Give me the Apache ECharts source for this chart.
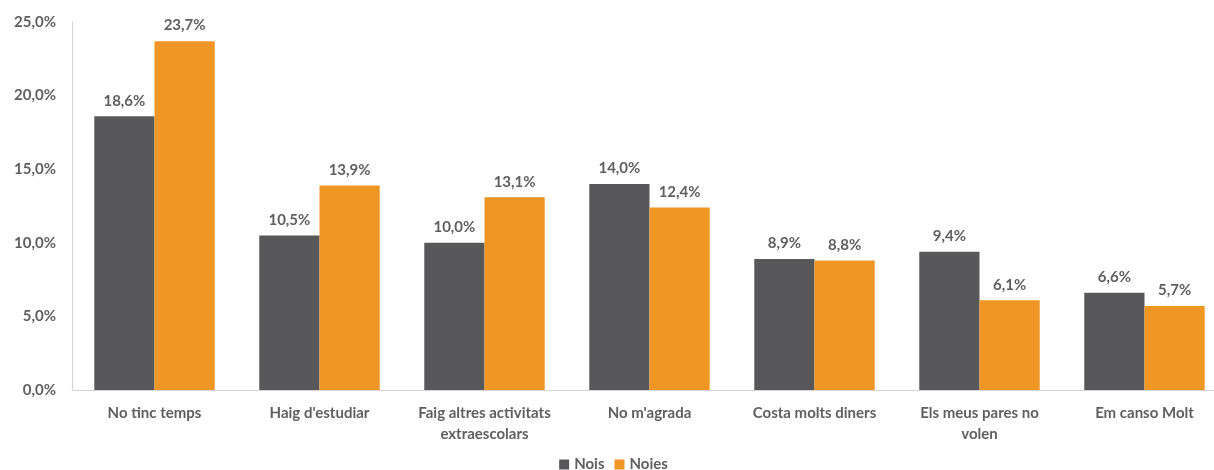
<!DOCTYPE html>
<html>
<head>
<meta charset="utf-8">
<script src="https://cdn.jsdelivr.net/npm/echarts@6/dist/echarts.min.js"></script>
<style>
  html, body { margin: 0; padding: 0; background: #fff; overflow: hidden; }
  /* the original plot runs a little past the right edge of the picture */
  #chart { width: 1227px; height: 470px; }
</style>
</head>
<body>
<div id="chart"></div>
<script>
// categories and values
var categories = [
  'No tinc temps',
  "Haig d'estudiar",
  'Faig altres activitats\nextraescolars',
  "No m'agrada",
  'Costa molts diners',
  'Els meus pares no\nvolen',
  'Em canso Molt'
];
var nois = [18.6, 10.5, 10.0, 14.0, 8.9, 9.4, 6.6];
var noies = [23.7, 13.9, 13.1, 12.4, 8.8, 6.1, 5.7];
var yTicks = [0, 5, 10, 15, 20, 25];

function pct(v) {
  return v.toFixed(1).replace('.', ',') + '%';
}

var textColor = '#5f5f5f';
var fontFam = 'Lato, "Open Sans", sans-serif';

var myChart = echarts.init(document.getElementById('chart'));
myChart.setOption({
  animation: false,
  textStyle: { fontFamily: fontFam },
  grid: {
    left: 72,
    top: 22,
    right: 0,
    bottom: 80
  },
  legend: {
    top: 452,
    left: 'center',
    itemWidth: 10,
    itemHeight: 10,
    itemGap: 10,
    icon: 'rect',
    textStyle: { color: textColor, fontSize: 15, fontWeight: 'bold', fontFamily: fontFam },
    data: ['Nois', 'Noies']
  },
  xAxis: {
    type: 'category',
    data: categories,
    axisLine: { lineStyle: { color: '#d4d4d4', width: 1 } },
    axisTick: { show: false },
    axisLabel: {
      color: textColor,
      fontSize: 15,
      fontWeight: 'bold',
      margin: 13,
      lineHeight: 21,
      interval: 0
    }
  },
  yAxis: {
    type: 'value',
    min: yTicks[0],
    max: yTicks[yTicks.length - 1],
    interval: 5,
    axisLine: { show: true, lineStyle: { color: '#d4d4d4', width: 1 } },
    axisTick: { show: false },
    splitLine: { show: false },
    axisLabel: {
      color: textColor,
      fontSize: 15,
      fontWeight: 'bold',
      margin: 16,
      formatter: function (v) { return pct(v); }
    }
  },
  series: [
    {
      name: 'Nois',
      type: 'bar',
      data: nois,
      barGap: 0,
      barCategoryGap: '27%',
      itemStyle: { color: '#58585b' },
      label: {
        show: true,
        position: 'top',
        distance: 8,
        color: textColor,
        fontSize: 15,
        fontWeight: 'bold',
        formatter: function (p) { return pct(p.value); }
      }
    },
    {
      name: 'Noies',
      type: 'bar',
      data: noies,
      itemStyle: { color: '#ef9624' },
      label: {
        show: true,
        position: 'top',
        distance: 8,
        color: textColor,
        fontSize: 15,
        fontWeight: 'bold',
        formatter: function (p) { return pct(p.value); }
      }
    }
  ]
});
</script>
</body>
</html>
